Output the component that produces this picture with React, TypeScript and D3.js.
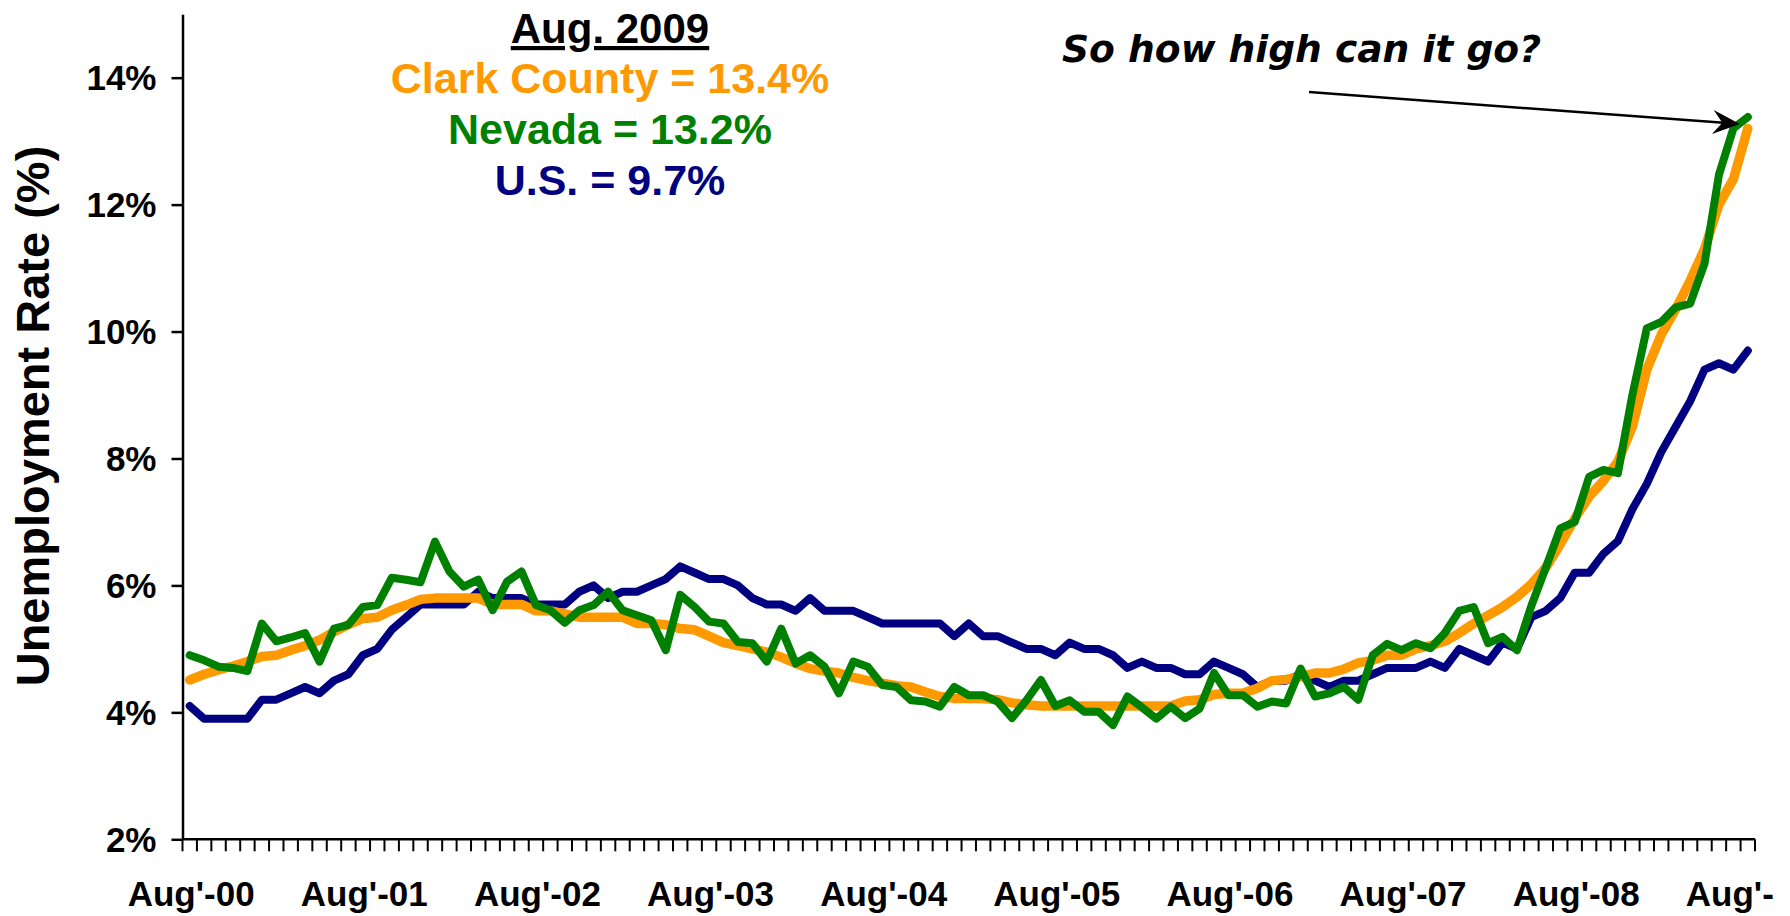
import * as d3 from "d3";
import { useEffect, useRef } from "react";

// monthly categories, Aug 2000 .. Aug 2009
const months = d3.timeMonth.range(new Date(2000, 7, 1), new Date(2009, 8, 1));
// last label is cut short in the original slide
const tickLabels = [
  "Aug'-00", "Aug'-01", "Aug'-02", "Aug'-03", "Aug'-04",
  "Aug'-05", "Aug'-06", "Aug'-07", "Aug'-08", "Aug'-",
];
const yTicks = [2, 4, 6, 8, 10, 12, 14];

// orange line
const clarkCounty = [
  4.51, 4.6, 4.67, 4.73, 4.8, 4.88, 4.9, 4.98, 5.05, 5.14, 5.27, 5.38,
  5.48, 5.5, 5.61, 5.69, 5.78, 5.8, 5.8, 5.8, 5.8, 5.7, 5.7, 5.7,
  5.6, 5.6, 5.55, 5.5, 5.5, 5.5, 5.5, 5.4, 5.4, 5.38, 5.32, 5.3,
  5.2, 5.1, 5.05, 5.0, 4.95, 4.87, 4.77, 4.69, 4.65, 4.62, 4.55, 4.5,
  4.46, 4.42, 4.4, 4.32, 4.25, 4.22, 4.22, 4.22, 4.2, 4.15, 4.12, 4.1,
  4.1, 4.1, 4.1, 4.1, 4.1, 4.1, 4.1, 4.1, 4.1, 4.18, 4.2, 4.28,
  4.3, 4.3, 4.38, 4.5, 4.52, 4.56, 4.62, 4.62, 4.68, 4.78, 4.82, 4.9,
  4.9, 5.0, 5.05, 5.12, 5.25, 5.4, 5.53, 5.66, 5.82, 6.02, 6.28, 6.65,
  7.05, 7.4, 7.65, 7.95, 8.5, 9.4, 9.95, 10.35, 10.8, 11.3, 12.0, 12.4, 13.2,
];

// green line
const nevada = [
  4.9, 4.82, 4.72, 4.7, 4.65, 5.4, 5.12, 5.18, 5.25, 4.8, 5.32, 5.38,
  5.66, 5.69, 6.12, 6.09, 6.05, 6.69, 6.22, 5.98, 6.09, 5.61, 6.06, 6.22,
  5.69, 5.61, 5.41, 5.61, 5.69, 5.9, 5.61, 5.53, 5.45, 4.98, 5.85, 5.66,
  5.43, 5.4, 5.11, 5.09, 4.8, 5.32, 4.77, 4.9, 4.72, 4.3, 4.8, 4.72,
  4.43, 4.4, 4.19, 4.17, 4.09, 4.4, 4.27, 4.27, 4.17, 3.91, 4.19, 4.51,
  4.1, 4.19, 4.01, 4.01, 3.8, 4.25, 4.08, 3.9, 4.09, 3.91, 4.06, 4.62,
  4.27, 4.27, 4.09, 4.17, 4.14, 4.69, 4.25, 4.3, 4.4, 4.2, 4.9, 5.08,
  4.98, 5.09, 5.01, 5.25, 5.6, 5.66, 5.09, 5.19, 4.98, 5.68, 6.28, 6.9,
  7.0, 7.71, 7.82, 7.77, 9.0, 10.05, 10.15, 10.38, 10.44, 11.07, 12.47, 13.2, 13.38,
];

// navy line
const us = [
  4.1, 3.9, 3.9, 3.9, 3.9, 4.2, 4.2, 4.3, 4.4, 4.3, 4.5, 4.6,
  4.9, 5.0, 5.3, 5.5, 5.7, 5.7, 5.7, 5.7, 5.9, 5.8, 5.8, 5.8,
  5.7, 5.7, 5.7, 5.9, 6.0, 5.8, 5.9, 5.9, 6.0, 6.1, 6.3, 6.2,
  6.1, 6.1, 6.0, 5.8, 5.7, 5.7, 5.6, 5.8, 5.6, 5.6, 5.6, 5.5,
  5.4, 5.4, 5.4, 5.4, 5.4, 5.2, 5.4, 5.2, 5.2, 5.1, 5.0, 5.0,
  4.9, 5.1, 5.0, 5.0, 4.9, 4.7, 4.8, 4.7, 4.7, 4.6, 4.6, 4.8,
  4.7, 4.6, 4.4, 4.5, 4.5, 4.6, 4.5, 4.4, 4.5, 4.5, 4.6, 4.7,
  4.7, 4.7, 4.8, 4.7, 5.0, 4.9, 4.8, 5.1, 5.0, 5.5, 5.6, 5.8,
  6.2, 6.2, 6.5, 6.7, 7.2, 7.6, 8.1, 8.5, 8.9, 9.4, 9.5, 9.4, 9.7,
];

const headline = "Aug. 2009";
const summary = [
  { text: "Clark County = 13.4%", color: "#FF9900" },
  { text: "Nevada = 13.2%", color: "#008000" },
  { text: "U.S. = 9.7%", color: "#000080" },
];
const callout = "So how high can it go?";

const FONT = "'Liberation Sans', Arial, sans-serif";

export default function App() {
  const svgRef = useRef<SVGSVGElement | null>(null);

  useEffect(() => {
    if (!svgRef.current) return;
    const width = 1790;
    const height = 916;
    const svg = d3.select(svgRef.current);
    svg.selectAll("*").remove();
    svg.attr("width", width).attr("height", height);

    const left = 182.5;
    const right = 1755;
    const keys = months.map((m) => d3.timeFormat("%Y-%m")(m));
    const x = d3.scaleBand().domain(keys).range([left, right]).padding(0);
    const xc = (i: number) => x(keys[i])! + x.bandwidth() / 2;
    const y = d3.scaleLinear().domain([2, 15]).range([839.3, 14.2]);
    const y0 = y(2);

    svg.append("rect").attr("width", width).attr("height", height).attr("fill", "#fff");

    // y axis
    const yAxis = svg
      .append("g")
      .attr("transform", `translate(${left},0)`)
      .call(
        d3
          .axisLeft(y)
          .tickValues(yTicks)
          .tickSize(11)
          .tickSizeOuter(0)
          .tickPadding(15)
          .tickFormat((d) => `${d}%`),
      );
    yAxis.select(".domain").attr("stroke", "#000").attr("stroke-width", 2.5);
    yAxis.selectAll(".tick line").attr("stroke", "#000").attr("stroke-width", 2.5);
    yAxis
      .selectAll(".tick text")
      .attr("fill", "#000")
      .attr("font-family", FONT)
      .attr("font-weight", "bold")
      .attr("font-size", 35)
      .attr("dy", "0.35em");

    // x axis: ticks between categories
    const xAxis = svg.append("g");
    xAxis
      .append("line")
      .attr("x1", left)
      .attr("x2", right)
      .attr("y1", y0)
      .attr("y2", y0)
      .attr("stroke", "#000")
      .attr("stroke-width", 2.5);
    const bounds = keys.map((k) => x(k)!).concat([right]);
    xAxis
      .selectAll(".xtick")
      .data(bounds)
      .enter()
      .append("line")
      .attr("x1", (d) => d)
      .attr("x2", (d) => d)
      .attr("y1", y0)
      .attr("y2", y0 + 12)
      .attr("stroke", "#000")
      .attr("stroke-width", 2);

    xAxis
      .selectAll(".xlabel")
      .data(tickLabels)
      .enter()
      .append("text")
      .attr("x", (_, i) => xc(i * 12) - 62)
      .attr("y", 906)
      .attr("font-family", FONT)
      .attr("font-weight", "bold")
      .attr("font-size", 35)
      .text((d) => d);

    svg
      .append("text")
      .attr("transform", "translate(49,416) rotate(-90)")
      .attr("text-anchor", "middle")
      .attr("font-family", FONT)
      .attr("font-weight", "bold")
      .attr("font-size", 47)
      .text("Unemployment Rate (%)");

    // lines
    const line = d3
      .line<number>()
      .x((_, i) => xc(i))
      .y((d) => y(d));
    const series = [
      { data: us, color: "#000080", w: 8 },
      { data: clarkCounty, color: "#FF9900", w: 9.5 },
      { data: nevada, color: "#008000", w: 8 },
    ];
    svg
      .selectAll(".series")
      .data(series)
      .enter()
      .append("path")
      .attr("class", "series")
      .attr("d", (d) => line(d.data))
      .attr("fill", "none")
      .attr("stroke", (d) => d.color)
      .attr("stroke-width", (d) => d.w)
      .attr("stroke-linejoin", "round")
      .attr("stroke-linecap", "round");

    // headline block
    const cx = 610;
    svg
      .append("text")
      .attr("x", cx)
      .attr("y", 43)
      .attr("text-anchor", "middle")
      .attr("font-family", FONT)
      .attr("font-weight", "bold")
      .attr("font-size", 42)
      .attr("text-decoration", "underline")
      .text(headline);
    svg
      .selectAll(".summary")
      .data(summary)
      .enter()
      .append("text")
      .attr("x", cx)
      .attr("y", (_, i) => 93 + i * 51)
      .attr("text-anchor", "middle")
      .attr("font-family", FONT)
      .attr("font-weight", "bold")
      .attr("font-size", 43)
      .attr("fill", (d) => d.color)
      .text((d) => d.text);

    // callout + arrow to the last Nevada point
    svg
      .append("text")
      .attr("x", 1062)
      .attr("y", 62)
      .attr("font-family", "'Comic Sans MS', 'DejaVu Sans', sans-serif")
      .attr("font-style", "italic")
      .attr("font-weight", "bold")
      .attr("font-size", 38)
      .attr("textLength", 479)
      .attr("lengthAdjust", "spacingAndGlyphs")
      .text(callout);

    const last = nevada.length - 1;
    const tip: [number, number] = [xc(last) - 8, y(nevada[last]) + 7];
    const start: [number, number] = [1309, 92];
    const dx = tip[0] - start[0];
    const dy = tip[1] - start[1];
    const len = Math.hypot(dx, dy);
    const ux = dx / len;
    const uy = dy / len;
    const L = 27;
    const W = 12;
    svg
      .append("line")
      .attr("x1", start[0])
      .attr("y1", start[1])
      .attr("x2", tip[0] - ux * L * 0.6)
      .attr("y2", tip[1] - uy * L * 0.6)
      .attr("stroke", "#000")
      .attr("stroke-width", 2.5);
    const head = [
      [tip[0], tip[1]],
      [tip[0] - ux * L - uy * W, tip[1] - uy * L + ux * W],
      [tip[0] - ux * L * 0.65, tip[1] - uy * L * 0.65],
      [tip[0] - ux * L + uy * W, tip[1] - uy * L - ux * W],
    ];
    svg
      .append("path")
      .attr("d", "M" + head.map((p) => p.join(",")).join("L") + "Z")
      .attr("fill", "#000");
  }, []);

  return (
    <div style={{ position: "absolute", left: 0, top: 0 }}>
      <svg ref={svgRef} style={{ display: "block" }} />
    </div>
  );
}
